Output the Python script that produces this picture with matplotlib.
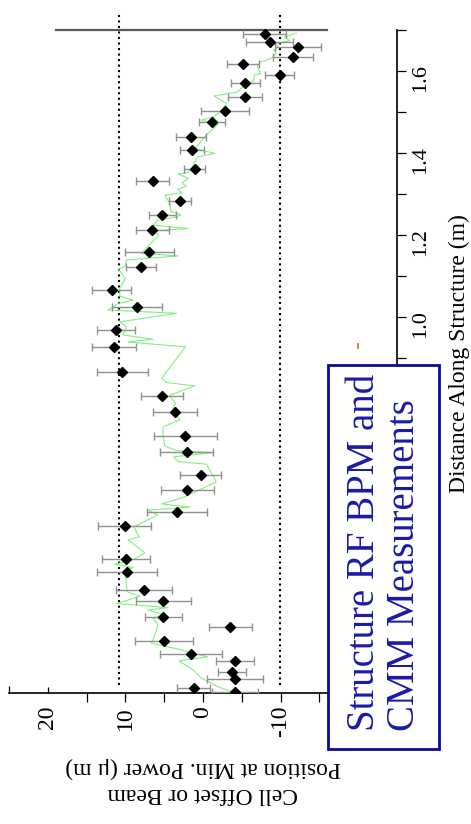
import matplotlib
matplotlib.use("Agg")
import matplotlib.pyplot as plt
import matplotlib.lines as mlines
from matplotlib.patches import Rectangle

plt.rcParams['font.family'] = ['Liberation Serif', 'DejaVu Serif']
plt.rcParams['axes.unicode_minus'] = False

# measured points (offset in um, distance along structure in m)
pt_dist = [1.691, 1.672, 1.659, 1.636, 1.619, 1.591, 1.571, 1.538, 1.503, 1.477,
           1.439, 1.408, 1.363, 1.333, 1.284, 1.250, 1.213, 1.160, 1.123, 1.066,
           1.026, 0.969, 0.928, 0.867, 0.809, 0.769, 0.710, 0.671, 0.615, 0.579,
           0.526, 0.490, 0.410, 0.380, 0.335, 0.308, 0.270, 0.245, 0.211, 0.180,
           0.161, 0.135, 0.118, 0.097, 0.085]
pt_offset = [-7.94, -8.58, -12.23, -11.58, -5.15, -9.87, -5.46, -5.37, -2.79, -1.16,
             1.58, 1.42, 1.07, 6.47, 3.00, 5.23, 6.56, 6.90, 8.02, 11.79,
             8.53, 11.24, 11.45, 10.42, 5.28, 3.64, 2.27, 2.10, 0.30, 2.01,
             3.38, 10.08, 9.95, 9.78, 7.63, 5.10, 5.10, -3.53, 4.97, 1.54,
             -4.08, -3.73, -4.08, 1.20, -4.17]
pt_err = [2.79, 3.04, 3.00, 2.62, 2.01, 1.84, 1.87, 2.19, 3.09, 1.70,
          1.91, 1.54, 1.33, 2.12, 1.44, 1.70, 2.12, 3.11, 1.96, 2.54,
          3.22, 2.42, 2.86, 3.28, 2.74, 2.83, 4.05, 3.38, 2.68, 3.45,
          3.86, 3.44, 3.06, 3.90, 3.58, 3.50, 2.34, 2.72, 3.73, 4.02,
          2.43, 1.83, 3.62, 2.15, 2.96]

# continuous CMM trace
cmm_dist = [1.693, 1.684, 1.675, 1.668, 1.660, 1.652, 1.644, 1.632, 1.622, 1.611,
            1.595, 1.591, 1.575, 1.559, 1.550, 1.540, 1.522, 1.506, 1.489, 1.481,
            1.471, 1.445, 1.420, 1.412, 1.400, 1.392, 1.374, 1.367, 1.353, 1.350,
            1.339, 1.328, 1.320, 1.312, 1.304, 1.298, 1.278, 1.259, 1.250, 1.244,
            1.237, 1.225, 1.217, 1.211, 1.201, 1.156, 1.150, 1.140, 1.123, 1.118,
            1.095, 1.071, 1.052, 1.042, 1.034, 1.018, 1.010, 0.989, 0.977, 0.957,
            0.947, 0.940, 0.928, 0.851, 0.841, 0.833, 0.810, 0.790, 0.778, 0.750,
            0.733, 0.713, 0.686, 0.675, 0.670, 0.660, 0.648, 0.642, 0.599, 0.562,
            0.545, 0.537, 0.530, 0.518, 0.489, 0.465, 0.457, 0.426, 0.410, 0.398,
            0.390, 0.380, 0.331, 0.319, 0.302, 0.292, 0.286, 0.274, 0.266, 0.250,
            0.225, 0.205, 0.189, 0.183, 0.172, 0.162, 0.140, 0.120, 0.097, 0.085]
cmm_offset = [-12.02, -10.51, -11.16, -9.45, -9.65, -9.14, -9.45, -8.80, -7.30, -7.00,
              -7.43, -6.65, -6.44, -4.94, -4.50, -1.42, -3.01, -2.57, -1.29, 0.21,
              -1.93, -0.44, 0.64, 1.07, -1.51, 0.64, 1.24, 1.29, 1.93, 3.22,
              1.84, 2.70, 2.14, 3.29, 2.70, 4.93, 4.29, 4.16, 2.87, 3.64,
              5.79, 6.44, 1.93, 6.44, 5.70, 7.93, 3.22, 9.86, 10.08, 10.94,
              9.99, 10.72, 10.72, 9.01, 10.94, 12.23, 3.42, 10.72, 9.86, 10.30,
              6.44, 9.65, 2.27, 5.35, 4.71, 1.07, 4.29, 3.55, 3.86, 3.00,
              5.15, 5.15, 4.93, 3.42, -1.29, 3.77, 3.22, -0.44, -1.72, 2.36,
              5.35, 1.62, 7.08, 5.87, 8.92, 8.24, 9.65, 7.50, 8.88, 11.36,
              9.01, 10.08, 9.78, 8.15, 11.15, 4.50, 7.08, 4.93, 6.44, 5.79,
              6.22, 6.64, 2.78, 1.71, -0.57, 3.09, 1.29, 0.21, -2.15, -4.08]

limit_lines = [10.8, -9.9]
limit_span = [0.103, 1.74]
top_line_offset = [19.0, -16.0]
top_line_dist = 1.7
stray_offset = [-20.0]
stray_dist = [0.93]

offset_ticks = [20, 10, 0, -10]
offset_labels = ['20', '10', '0', '-10']
offset_minor = [25, 15, 5, -5, -15, -20]
dist_ticks = [1.0, 1.2, 1.4, 1.6]
dist_labels = ['1.0', '1.2', '1.4', '1.6']
dist_minor = [0.9, 1.1, 1.3, 1.5, 1.7]

fig = plt.figure(figsize=(4.71, 8.24), dpi=100)
ax = fig.add_axes([0.0191, 0.1593, 0.8238, 0.8237])
ax.set_xlim(25, -25)
ax.set_ylim(0.0844, 1.74)

for v in limit_lines:
    ax.plot([v, v], limit_span, color='black', linestyle=':', lw=1.5, zorder=1)
ax.plot(top_line_offset, [top_line_dist, top_line_dist], color='#5a5a5a', lw=1.6, zorder=1)

ax.plot(cmm_offset, cmm_dist, color='#80f080', lw=0.8, zorder=2)
ax.errorbar(pt_offset, pt_dist, xerr=pt_err, fmt='none', ecolor='#909090',
            elinewidth=1.0, capsize=3, capthick=1.0, zorder=3)
ax.plot(pt_offset, pt_dist, linestyle='none', marker='D', ms=5.5,
        color='black', zorder=4)
ax.plot(stray_offset, stray_dist, linestyle='none', marker='|', ms=4,
        color='#d07010', mew=1.2)

for s in ['top', 'left']:
    ax.spines[s].set_visible(False)
ax.spines['bottom'].set_linewidth(1.2)
ax.spines['right'].set_linewidth(1.2)
ax.spines['right'].set_bounds(0.0844, 1.7)

ax.set_xticks(offset_ticks)
ax.set_xticklabels(offset_labels)
ax.set_xticks(offset_minor, minor=True)
ax.yaxis.tick_right()
ax.set_yticks(dist_ticks)
ax.set_yticklabels(dist_labels)
ax.set_yticks(dist_minor, minor=True)
ax.tick_params(axis='both', which='both', direction='out', length=6.5, width=0.9)
ax.tick_params(axis='x', labelsize=17, labelrotation=90, pad=3)
ax.tick_params(axis='y', labelsize=16, labelrotation=90, pad=4)

# odd ticks on the offset axis (pointing into the plot)
t20 = ax.xaxis.get_major_ticks()[0]
t20.tick1line.set_marker(mlines.TICKUP)
t20.tick1line.set_color('#d07010')
t20.tick1line.set_markersize(4.5)
t25 = ax.xaxis.get_minor_ticks()[0]
t25.tick1line.set_marker(mlines.TICKUP)
t25.tick1line.set_markersize(5)

ax.set_xlabel("Cell Offset or Beam\nPosition at Min. Power (\u03bc m)",
              fontsize=17, rotation=180, labelpad=14, linespacing=1.3)
ax.yaxis.set_label_position('right')
ax.set_ylabel("Distance Along Structure (m)", fontsize=17, rotation=90, labelpad=13)

box = Rectangle((0.6964, 0.0910), 0.2357, 0.4660, transform=fig.transFigure,
                facecolor='white', edgecolor='#0a0aa0', lw=2, zorder=10)
fig.patches.append(box)
fig.text(0.816, 0.330, "Structure RF BPM and\nCMM Measurements", rotation=90,
         ha='center', va='center', multialignment='left', fontsize=28,
         color='#1a1aa8', linespacing=1.12, zorder=11)

fig.savefig('out.png', dpi=100)
